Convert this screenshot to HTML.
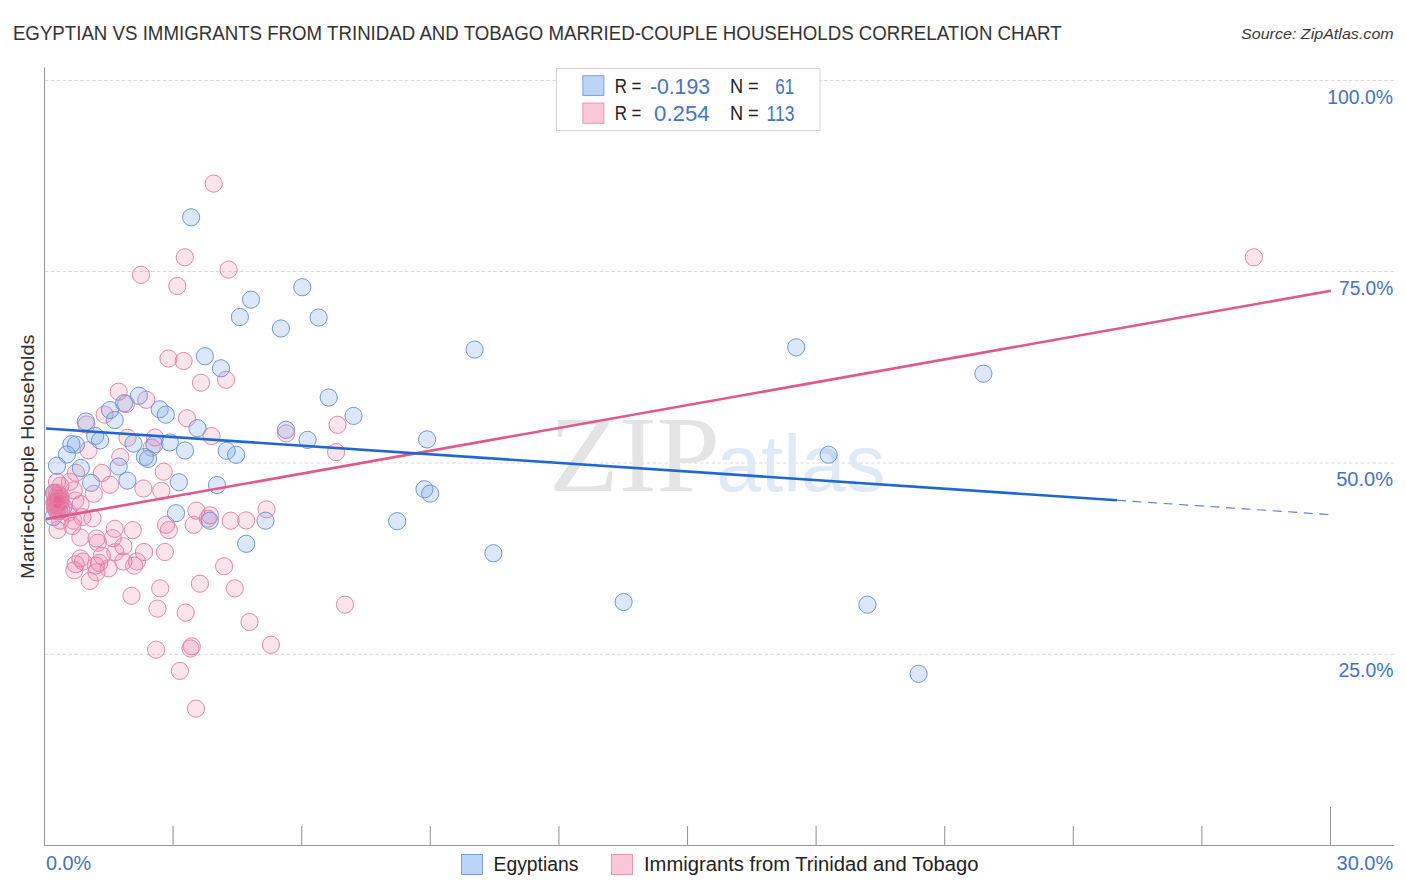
<!DOCTYPE html>
<html><head><meta charset="utf-8"><style>
html,body{margin:0;padding:0;background:#fff;width:1406px;height:892px;overflow:hidden}
svg{display:block}
text{font-family:"Liberation Sans",sans-serif}
</style></head><body>
<svg width="1406" height="892" viewBox="0 0 1406 892">
<rect width="1406" height="892" fill="#fff"/>
<text x="12.9" y="39.7" font-size="19.6" fill="#333" textLength="1048.7" lengthAdjust="spacingAndGlyphs">EGYPTIAN VS IMMIGRANTS FROM TRINIDAD AND TOBAGO MARRIED-COUPLE HOUSEHOLDS CORRELATION CHART</text>
<text x="1241" y="38.7" font-size="14.8" font-style="italic" fill="#3a3a3a" textLength="152.7" lengthAdjust="spacingAndGlyphs">Source: ZipAtlas.com</text>
<line x1="45" y1="80.5" x2="1394" y2="80.5" stroke="#dadada" stroke-width="1" stroke-dasharray="3.5,2.4"/>
<line x1="45" y1="271.5" x2="1394" y2="271.5" stroke="#dadada" stroke-width="1" stroke-dasharray="3.5,2.4"/>
<line x1="45" y1="463.0" x2="1394" y2="463.0" stroke="#dadada" stroke-width="1" stroke-dasharray="3.5,2.4"/>
<line x1="45" y1="654.3" x2="1394" y2="654.3" stroke="#dadada" stroke-width="1" stroke-dasharray="3.5,2.4"/>
<text x="549" y="490.9" font-family="Liberation Serif" font-size="108" fill="#e4e4e4" textLength="171" lengthAdjust="spacingAndGlyphs" style="font-family:'Liberation Serif',serif">ZIP</text>
<text x="716.5" y="490.9" font-size="80" fill="#dfe9f7" textLength="169" lengthAdjust="spacingAndGlyphs">atlas</text>
<line x1="44.5" y1="67.5" x2="44.5" y2="845.5" stroke="#999" stroke-width="1.1"/>
<line x1="44" y1="845.5" x2="1394" y2="845.5" stroke="#999" stroke-width="1.1"/>
<line x1="173.1" y1="826" x2="173.1" y2="845" stroke="#999" stroke-width="1.1"/>
<line x1="301.7" y1="826" x2="301.7" y2="845" stroke="#999" stroke-width="1.1"/>
<line x1="430.3" y1="826" x2="430.3" y2="845" stroke="#999" stroke-width="1.1"/>
<line x1="558.9" y1="826" x2="558.9" y2="845" stroke="#999" stroke-width="1.1"/>
<line x1="687.5" y1="826" x2="687.5" y2="845" stroke="#999" stroke-width="1.1"/>
<line x1="816.1" y1="826" x2="816.1" y2="845" stroke="#999" stroke-width="1.1"/>
<line x1="944.7" y1="826" x2="944.7" y2="845" stroke="#999" stroke-width="1.1"/>
<line x1="1073.3" y1="826" x2="1073.3" y2="845" stroke="#999" stroke-width="1.1"/>
<line x1="1201.9" y1="826" x2="1201.9" y2="845" stroke="#999" stroke-width="1.1"/>
<line x1="1330.5" y1="807" x2="1330.5" y2="845" stroke="#999" stroke-width="1.1"/>
<text x="1327.3" y="103.7" font-size="20" fill="#4173cc" textLength="65.7" lengthAdjust="spacingAndGlyphs">100.0%</text>
<text x="1339" y="294.9" font-size="20" fill="#4173cc" textLength="54.2" lengthAdjust="spacingAndGlyphs">75.0%</text>
<text x="1336.2" y="485.9" font-size="20" fill="#4173cc" textLength="56.9" lengthAdjust="spacingAndGlyphs">50.0%</text>
<text x="1338.5" y="677.2" font-size="20" fill="#4173cc" textLength="55" lengthAdjust="spacingAndGlyphs">25.0%</text>
<text x="46" y="869.8" font-size="20" fill="#4173cc" textLength="45.2" lengthAdjust="spacingAndGlyphs">0.0%</text>
<text x="1336.6" y="869.8" font-size="20" fill="#4173cc" textLength="56.6" lengthAdjust="spacingAndGlyphs">30.0%</text>
<text transform="translate(33.8,579) rotate(-90)" x="0" y="0" font-size="19" fill="#333" textLength="244.5" lengthAdjust="spacingAndGlyphs">Married-couple Households</text>
<circle cx="54.1" cy="492.8" r="8.6" fill="rgba(116,162,232,0.25)" stroke="#7197da" stroke-width="1"/>
<circle cx="63.5" cy="506.9" r="8.6" fill="rgba(116,162,232,0.25)" stroke="#7197da" stroke-width="1"/>
<circle cx="53.3" cy="517.1" r="8.6" fill="rgba(116,162,232,0.25)" stroke="#7197da" stroke-width="1"/>
<circle cx="1253.8" cy="257.3" r="8.6" fill="rgba(236,92,148,0.17)" stroke="#e488aa" stroke-width="1"/>
<circle cx="345" cy="604.6" r="8.6" fill="rgba(236,92,148,0.17)" stroke="#e488aa" stroke-width="1"/>
<circle cx="213.7" cy="183.6" r="8.6" fill="rgba(236,92,148,0.17)" stroke="#e488aa" stroke-width="1"/>
<circle cx="184.8" cy="257.3" r="8.6" fill="rgba(236,92,148,0.17)" stroke="#e488aa" stroke-width="1"/>
<circle cx="141" cy="274.8" r="8.6" fill="rgba(236,92,148,0.17)" stroke="#e488aa" stroke-width="1"/>
<circle cx="177.3" cy="286" r="8.6" fill="rgba(236,92,148,0.17)" stroke="#e488aa" stroke-width="1"/>
<circle cx="228.6" cy="269.6" r="8.6" fill="rgba(236,92,148,0.17)" stroke="#e488aa" stroke-width="1"/>
<circle cx="168.5" cy="358.5" r="8.6" fill="rgba(236,92,148,0.17)" stroke="#e488aa" stroke-width="1"/>
<circle cx="183.6" cy="361" r="8.6" fill="rgba(236,92,148,0.17)" stroke="#e488aa" stroke-width="1"/>
<circle cx="201" cy="382.7" r="8.6" fill="rgba(236,92,148,0.17)" stroke="#e488aa" stroke-width="1"/>
<circle cx="226" cy="379.8" r="8.6" fill="rgba(236,92,148,0.17)" stroke="#e488aa" stroke-width="1"/>
<circle cx="118.7" cy="391.7" r="8.6" fill="rgba(236,92,148,0.17)" stroke="#e488aa" stroke-width="1"/>
<circle cx="146.3" cy="399.8" r="8.6" fill="rgba(236,92,148,0.17)" stroke="#e488aa" stroke-width="1"/>
<circle cx="126.1" cy="404" r="8.6" fill="rgba(236,92,148,0.17)" stroke="#e488aa" stroke-width="1"/>
<circle cx="104.6" cy="414.6" r="8.6" fill="rgba(236,92,148,0.17)" stroke="#e488aa" stroke-width="1"/>
<circle cx="86.4" cy="424.5" r="8.6" fill="rgba(236,92,148,0.17)" stroke="#e488aa" stroke-width="1"/>
<circle cx="187" cy="418.3" r="8.6" fill="rgba(236,92,148,0.17)" stroke="#e488aa" stroke-width="1"/>
<circle cx="337.5" cy="424.8" r="8.6" fill="rgba(236,92,148,0.17)" stroke="#e488aa" stroke-width="1"/>
<circle cx="286.2" cy="433.4" r="8.6" fill="rgba(236,92,148,0.17)" stroke="#e488aa" stroke-width="1"/>
<circle cx="336.1" cy="452.1" r="8.6" fill="rgba(236,92,148,0.17)" stroke="#e488aa" stroke-width="1"/>
<circle cx="127.5" cy="437.8" r="8.6" fill="rgba(236,92,148,0.17)" stroke="#e488aa" stroke-width="1"/>
<circle cx="155" cy="437.5" r="8.6" fill="rgba(236,92,148,0.17)" stroke="#e488aa" stroke-width="1"/>
<circle cx="211.5" cy="436" r="8.6" fill="rgba(236,92,148,0.17)" stroke="#e488aa" stroke-width="1"/>
<circle cx="151.7" cy="447.6" r="8.6" fill="rgba(236,92,148,0.17)" stroke="#e488aa" stroke-width="1"/>
<circle cx="88.5" cy="450.3" r="8.6" fill="rgba(236,92,148,0.17)" stroke="#e488aa" stroke-width="1"/>
<circle cx="120.3" cy="457" r="8.6" fill="rgba(236,92,148,0.17)" stroke="#e488aa" stroke-width="1"/>
<circle cx="163.7" cy="471.7" r="8.6" fill="rgba(236,92,148,0.17)" stroke="#e488aa" stroke-width="1"/>
<circle cx="161.3" cy="490.8" r="8.6" fill="rgba(236,92,148,0.17)" stroke="#e488aa" stroke-width="1"/>
<circle cx="143.4" cy="488.5" r="8.6" fill="rgba(236,92,148,0.17)" stroke="#e488aa" stroke-width="1"/>
<circle cx="101.9" cy="473" r="8.6" fill="rgba(236,92,148,0.17)" stroke="#e488aa" stroke-width="1"/>
<circle cx="76" cy="472.8" r="8.6" fill="rgba(236,92,148,0.17)" stroke="#e488aa" stroke-width="1"/>
<circle cx="110" cy="484.8" r="8.6" fill="rgba(236,92,148,0.17)" stroke="#e488aa" stroke-width="1"/>
<circle cx="57" cy="482" r="8.6" fill="rgba(236,92,148,0.17)" stroke="#e488aa" stroke-width="1"/>
<circle cx="93.8" cy="493.8" r="8.6" fill="rgba(236,92,148,0.17)" stroke="#e488aa" stroke-width="1"/>
<circle cx="80.6" cy="504.2" r="8.6" fill="rgba(236,92,148,0.17)" stroke="#e488aa" stroke-width="1"/>
<circle cx="92.5" cy="518.3" r="8.6" fill="rgba(236,92,148,0.17)" stroke="#e488aa" stroke-width="1"/>
<circle cx="57.5" cy="530" r="8.6" fill="rgba(236,92,148,0.17)" stroke="#e488aa" stroke-width="1"/>
<circle cx="72.3" cy="526" r="8.6" fill="rgba(236,92,148,0.17)" stroke="#e488aa" stroke-width="1"/>
<circle cx="80.4" cy="537.5" r="8.6" fill="rgba(236,92,148,0.17)" stroke="#e488aa" stroke-width="1"/>
<circle cx="96.5" cy="538.5" r="8.6" fill="rgba(236,92,148,0.17)" stroke="#e488aa" stroke-width="1"/>
<circle cx="114.7" cy="528.8" r="8.6" fill="rgba(236,92,148,0.17)" stroke="#e488aa" stroke-width="1"/>
<circle cx="132.8" cy="530.1" r="8.6" fill="rgba(236,92,148,0.17)" stroke="#e488aa" stroke-width="1"/>
<circle cx="112.7" cy="538.2" r="8.6" fill="rgba(236,92,148,0.17)" stroke="#e488aa" stroke-width="1"/>
<circle cx="123.4" cy="546.3" r="8.6" fill="rgba(236,92,148,0.17)" stroke="#e488aa" stroke-width="1"/>
<circle cx="144" cy="552" r="8.6" fill="rgba(236,92,148,0.17)" stroke="#e488aa" stroke-width="1"/>
<circle cx="101.9" cy="555.7" r="8.6" fill="rgba(236,92,148,0.17)" stroke="#e488aa" stroke-width="1"/>
<circle cx="80.4" cy="558.4" r="8.6" fill="rgba(236,92,148,0.17)" stroke="#e488aa" stroke-width="1"/>
<circle cx="166.1" cy="524.8" r="8.6" fill="rgba(236,92,148,0.17)" stroke="#e488aa" stroke-width="1"/>
<circle cx="168.8" cy="530.1" r="8.6" fill="rgba(236,92,148,0.17)" stroke="#e488aa" stroke-width="1"/>
<circle cx="196.4" cy="510.6" r="8.6" fill="rgba(236,92,148,0.17)" stroke="#e488aa" stroke-width="1"/>
<circle cx="209.9" cy="515.3" r="8.6" fill="rgba(236,92,148,0.17)" stroke="#e488aa" stroke-width="1"/>
<circle cx="207.8" cy="518.7" r="8.6" fill="rgba(236,92,148,0.17)" stroke="#e488aa" stroke-width="1"/>
<circle cx="193.7" cy="524.8" r="8.6" fill="rgba(236,92,148,0.17)" stroke="#e488aa" stroke-width="1"/>
<circle cx="230.7" cy="520.7" r="8.6" fill="rgba(236,92,148,0.17)" stroke="#e488aa" stroke-width="1"/>
<circle cx="246.2" cy="520.4" r="8.6" fill="rgba(236,92,148,0.17)" stroke="#e488aa" stroke-width="1"/>
<circle cx="266.5" cy="509.3" r="8.6" fill="rgba(236,92,148,0.17)" stroke="#e488aa" stroke-width="1"/>
<circle cx="164.9" cy="552" r="8.6" fill="rgba(236,92,148,0.17)" stroke="#e488aa" stroke-width="1"/>
<circle cx="97.9" cy="542.7" r="8.6" fill="rgba(236,92,148,0.17)" stroke="#e488aa" stroke-width="1"/>
<circle cx="75.7" cy="564.2" r="8.6" fill="rgba(236,92,148,0.17)" stroke="#e488aa" stroke-width="1"/>
<circle cx="74.3" cy="570.3" r="8.6" fill="rgba(236,92,148,0.17)" stroke="#e488aa" stroke-width="1"/>
<circle cx="83" cy="561.5" r="8.6" fill="rgba(236,92,148,0.17)" stroke="#e488aa" stroke-width="1"/>
<circle cx="95.8" cy="565.6" r="8.6" fill="rgba(236,92,148,0.17)" stroke="#e488aa" stroke-width="1"/>
<circle cx="99.2" cy="562.9" r="8.6" fill="rgba(236,92,148,0.17)" stroke="#e488aa" stroke-width="1"/>
<circle cx="96.5" cy="572.3" r="8.6" fill="rgba(236,92,148,0.17)" stroke="#e488aa" stroke-width="1"/>
<circle cx="108.6" cy="568.3" r="8.6" fill="rgba(236,92,148,0.17)" stroke="#e488aa" stroke-width="1"/>
<circle cx="89.8" cy="581" r="8.6" fill="rgba(236,92,148,0.17)" stroke="#e488aa" stroke-width="1"/>
<circle cx="123.4" cy="561.5" r="8.6" fill="rgba(236,92,148,0.17)" stroke="#e488aa" stroke-width="1"/>
<circle cx="134.2" cy="565.6" r="8.6" fill="rgba(236,92,148,0.17)" stroke="#e488aa" stroke-width="1"/>
<circle cx="136.9" cy="561.5" r="8.6" fill="rgba(236,92,148,0.17)" stroke="#e488aa" stroke-width="1"/>
<circle cx="115.3" cy="552.1" r="8.6" fill="rgba(236,92,148,0.17)" stroke="#e488aa" stroke-width="1"/>
<circle cx="131.5" cy="595.8" r="8.6" fill="rgba(236,92,148,0.17)" stroke="#e488aa" stroke-width="1"/>
<circle cx="160.2" cy="588.4" r="8.6" fill="rgba(236,92,148,0.17)" stroke="#e488aa" stroke-width="1"/>
<circle cx="157.5" cy="608.6" r="8.6" fill="rgba(236,92,148,0.17)" stroke="#e488aa" stroke-width="1"/>
<circle cx="156.1" cy="649.7" r="8.6" fill="rgba(236,92,148,0.17)" stroke="#e488aa" stroke-width="1"/>
<circle cx="224.1" cy="566.2" r="8.6" fill="rgba(236,92,148,0.17)" stroke="#e488aa" stroke-width="1"/>
<circle cx="199.9" cy="583.7" r="8.6" fill="rgba(236,92,148,0.17)" stroke="#e488aa" stroke-width="1"/>
<circle cx="234.8" cy="588.4" r="8.6" fill="rgba(236,92,148,0.17)" stroke="#e488aa" stroke-width="1"/>
<circle cx="185.7" cy="612.6" r="8.6" fill="rgba(236,92,148,0.17)" stroke="#e488aa" stroke-width="1"/>
<circle cx="249.5" cy="622" r="8.6" fill="rgba(236,92,148,0.17)" stroke="#e488aa" stroke-width="1"/>
<circle cx="191.8" cy="646.3" r="8.6" fill="rgba(236,92,148,0.17)" stroke="#e488aa" stroke-width="1"/>
<circle cx="190.5" cy="648.5" r="8.6" fill="rgba(236,92,148,0.17)" stroke="#e488aa" stroke-width="1"/>
<circle cx="270.9" cy="644.8" r="8.6" fill="rgba(236,92,148,0.17)" stroke="#e488aa" stroke-width="1"/>
<circle cx="179.9" cy="670.9" r="8.6" fill="rgba(236,92,148,0.17)" stroke="#e488aa" stroke-width="1"/>
<circle cx="196" cy="708.6" r="8.6" fill="rgba(236,92,148,0.17)" stroke="#e488aa" stroke-width="1"/>
<circle cx="60.4" cy="485.7" r="8.6" fill="rgba(236,92,148,0.17)" stroke="#e488aa" stroke-width="1"/>
<circle cx="69.8" cy="481.8" r="8.6" fill="rgba(236,92,148,0.17)" stroke="#e488aa" stroke-width="1"/>
<circle cx="73.8" cy="490.4" r="8.6" fill="rgba(236,92,148,0.17)" stroke="#e488aa" stroke-width="1"/>
<circle cx="82.4" cy="517.1" r="8.6" fill="rgba(236,92,148,0.17)" stroke="#e488aa" stroke-width="1"/>
<circle cx="59.0" cy="502.0" r="8.6" fill="rgba(236,92,148,0.17)" stroke="#e488aa" stroke-width="1"/>
<circle cx="55.287818853376265" cy="505.208450107618" r="8.6" fill="rgba(236,92,148,0.17)" stroke="#e488aa" stroke-width="1"/>
<circle cx="57.89374542547751" cy="494.9023271620446" r="8.6" fill="rgba(236,92,148,0.17)" stroke="#e488aa" stroke-width="1"/>
<circle cx="61.15010788719353" cy="509.53984470656695" r="8.6" fill="rgba(236,92,148,0.17)" stroke="#e488aa" stroke-width="1"/>
<circle cx="56.02296821630881" cy="501.58597389459544" r="8.6" fill="rgba(236,92,148,0.17)" stroke="#e488aa" stroke-width="1"/>
<circle cx="60.03156187619748" cy="499.45127863949796" r="8.6" fill="rgba(236,92,148,0.17)" stroke="#e488aa" stroke-width="1"/>
<circle cx="56.330821897038106" cy="508.8803116579136" r="8.6" fill="rgba(236,92,148,0.17)" stroke="#e488aa" stroke-width="1"/>
<circle cx="54.73592847553182" cy="493.56811318097573" r="8.6" fill="rgba(236,92,148,0.17)" stroke="#e488aa" stroke-width="1"/>
<circle cx="58.908830520045306" cy="502.8153729559472" r="8.6" fill="rgba(236,92,148,0.17)" stroke="#e488aa" stroke-width="1"/>
<circle cx="54.72658467525764" cy="503.81093983536095" r="8.6" fill="rgba(236,92,148,0.17)" stroke="#e488aa" stroke-width="1"/>
<circle cx="59.40880553301648" cy="495.54775417070283" r="8.6" fill="rgba(236,92,148,0.17)" stroke="#e488aa" stroke-width="1"/>
<circle cx="59.293387438186826" cy="511.0657083976806" r="8.6" fill="rgba(236,92,148,0.17)" stroke="#e488aa" stroke-width="1"/>
<circle cx="56.20251517576971" cy="500.80825041007614" r="8.6" fill="rgba(236,92,148,0.17)" stroke="#e488aa" stroke-width="1"/>
<circle cx="60.43033490249678" cy="500.98230043359456" r="8.6" fill="rgba(236,92,148,0.17)" stroke="#e488aa" stroke-width="1"/>
<circle cx="54.91002284809396" cy="507.8265845635009" r="8.6" fill="rgba(236,92,148,0.17)" stroke="#e488aa" stroke-width="1"/>
<circle cx="56.73221786223557" cy="492.5781008922904" r="8.6" fill="rgba(236,92,148,0.17)" stroke="#e488aa" stroke-width="1"/>
<circle cx="58.64640457894817" cy="503.53162974074405" r="8.6" fill="rgba(236,92,148,0.17)" stroke="#e488aa" stroke-width="1"/>
<circle cx="54.50248494094586" cy="502.1932929724119" r="8.6" fill="rgba(236,92,148,0.17)" stroke="#e488aa" stroke-width="1"/>
<circle cx="60.691832563515774" cy="496.97751170842344" r="8.6" fill="rgba(236,92,148,0.17)" stroke="#e488aa" stroke-width="1"/>
<circle cx="57.21866405571774" cy="511.4895508620777" r="8.6" fill="rgba(236,92,148,0.17)" stroke="#e488aa" stroke-width="1"/>
<circle cx="56.539783490796204" cy="500.1753951793563" r="8.6" fill="rgba(236,92,148,0.17)" stroke="#e488aa" stroke-width="1"/>
<circle cx="60.472898449924465" cy="502.6370330813169" r="8.6" fill="rgba(236,92,148,0.17)" stroke="#e488aa" stroke-width="1"/>
<circle cx="75.3" cy="500.5" r="8.6" fill="rgba(236,92,148,0.17)" stroke="#e488aa" stroke-width="1"/>
<circle cx="68.3" cy="512.6" r="8.6" fill="rgba(236,92,148,0.17)" stroke="#e488aa" stroke-width="1"/>
<circle cx="60.2" cy="520.6" r="8.6" fill="rgba(236,92,148,0.17)" stroke="#e488aa" stroke-width="1"/>
<circle cx="73.3" cy="520.6" r="8.6" fill="rgba(236,92,148,0.17)" stroke="#e488aa" stroke-width="1"/>
<circle cx="474.6" cy="349.6" r="8.6" fill="rgba(116,162,232,0.25)" stroke="#7197da" stroke-width="1"/>
<circle cx="353.5" cy="415.9" r="8.6" fill="rgba(116,162,232,0.25)" stroke="#7197da" stroke-width="1"/>
<circle cx="427.1" cy="439.4" r="8.6" fill="rgba(116,162,232,0.25)" stroke="#7197da" stroke-width="1"/>
<circle cx="424.5" cy="489.2" r="8.6" fill="rgba(116,162,232,0.25)" stroke="#7197da" stroke-width="1"/>
<circle cx="430.2" cy="493.6" r="8.6" fill="rgba(116,162,232,0.25)" stroke="#7197da" stroke-width="1"/>
<circle cx="397.2" cy="521.2" r="8.6" fill="rgba(116,162,232,0.25)" stroke="#7197da" stroke-width="1"/>
<circle cx="493.4" cy="553.2" r="8.6" fill="rgba(116,162,232,0.25)" stroke="#7197da" stroke-width="1"/>
<circle cx="623.6" cy="602" r="8.6" fill="rgba(116,162,232,0.25)" stroke="#7197da" stroke-width="1"/>
<circle cx="796.2" cy="347.3" r="8.6" fill="rgba(116,162,232,0.25)" stroke="#7197da" stroke-width="1"/>
<circle cx="983.4" cy="373.7" r="8.6" fill="rgba(116,162,232,0.25)" stroke="#7197da" stroke-width="1"/>
<circle cx="828.6" cy="454.7" r="8.6" fill="rgba(116,162,232,0.25)" stroke="#7197da" stroke-width="1"/>
<circle cx="867.4" cy="604.7" r="8.6" fill="rgba(116,162,232,0.25)" stroke="#7197da" stroke-width="1"/>
<circle cx="918.6" cy="673.8" r="8.6" fill="rgba(116,162,232,0.25)" stroke="#7197da" stroke-width="1"/>
<circle cx="191.1" cy="217.3" r="8.6" fill="rgba(116,162,232,0.25)" stroke="#7197da" stroke-width="1"/>
<circle cx="302.3" cy="287.2" r="8.6" fill="rgba(116,162,232,0.25)" stroke="#7197da" stroke-width="1"/>
<circle cx="251" cy="299.7" r="8.6" fill="rgba(116,162,232,0.25)" stroke="#7197da" stroke-width="1"/>
<circle cx="239.9" cy="317" r="8.6" fill="rgba(116,162,232,0.25)" stroke="#7197da" stroke-width="1"/>
<circle cx="318.6" cy="317.5" r="8.6" fill="rgba(116,162,232,0.25)" stroke="#7197da" stroke-width="1"/>
<circle cx="280.9" cy="328.5" r="8.6" fill="rgba(116,162,232,0.25)" stroke="#7197da" stroke-width="1"/>
<circle cx="204.9" cy="356.2" r="8.6" fill="rgba(116,162,232,0.25)" stroke="#7197da" stroke-width="1"/>
<circle cx="221" cy="368.3" r="8.6" fill="rgba(116,162,232,0.25)" stroke="#7197da" stroke-width="1"/>
<circle cx="328.7" cy="397.5" r="8.6" fill="rgba(116,162,232,0.25)" stroke="#7197da" stroke-width="1"/>
<circle cx="286" cy="429.8" r="8.6" fill="rgba(116,162,232,0.25)" stroke="#7197da" stroke-width="1"/>
<circle cx="307.6" cy="439.9" r="8.6" fill="rgba(116,162,232,0.25)" stroke="#7197da" stroke-width="1"/>
<circle cx="138.9" cy="395.8" r="8.6" fill="rgba(116,162,232,0.25)" stroke="#7197da" stroke-width="1"/>
<circle cx="124.1" cy="403.2" r="8.6" fill="rgba(116,162,232,0.25)" stroke="#7197da" stroke-width="1"/>
<circle cx="110" cy="410" r="8.6" fill="rgba(116,162,232,0.25)" stroke="#7197da" stroke-width="1"/>
<circle cx="114.7" cy="420" r="8.6" fill="rgba(116,162,232,0.25)" stroke="#7197da" stroke-width="1"/>
<circle cx="85.9" cy="421.5" r="8.6" fill="rgba(116,162,232,0.25)" stroke="#7197da" stroke-width="1"/>
<circle cx="159.7" cy="409.3" r="8.6" fill="rgba(116,162,232,0.25)" stroke="#7197da" stroke-width="1"/>
<circle cx="165.8" cy="414.7" r="8.6" fill="rgba(116,162,232,0.25)" stroke="#7197da" stroke-width="1"/>
<circle cx="197.5" cy="428.2" r="8.6" fill="rgba(116,162,232,0.25)" stroke="#7197da" stroke-width="1"/>
<circle cx="95.2" cy="436" r="8.6" fill="rgba(116,162,232,0.25)" stroke="#7197da" stroke-width="1"/>
<circle cx="100" cy="440.4" r="8.6" fill="rgba(116,162,232,0.25)" stroke="#7197da" stroke-width="1"/>
<circle cx="133.5" cy="443.6" r="8.6" fill="rgba(116,162,232,0.25)" stroke="#7197da" stroke-width="1"/>
<circle cx="154.4" cy="444.5" r="8.6" fill="rgba(116,162,232,0.25)" stroke="#7197da" stroke-width="1"/>
<circle cx="169.8" cy="442.5" r="8.6" fill="rgba(116,162,232,0.25)" stroke="#7197da" stroke-width="1"/>
<circle cx="185" cy="450.5" r="8.6" fill="rgba(116,162,232,0.25)" stroke="#7197da" stroke-width="1"/>
<circle cx="71.4" cy="444.2" r="8.6" fill="rgba(116,162,232,0.25)" stroke="#7197da" stroke-width="1"/>
<circle cx="75.9" cy="444.7" r="8.6" fill="rgba(116,162,232,0.25)" stroke="#7197da" stroke-width="1"/>
<circle cx="66.9" cy="454.5" r="8.6" fill="rgba(116,162,232,0.25)" stroke="#7197da" stroke-width="1"/>
<circle cx="226.7" cy="450.8" r="8.6" fill="rgba(116,162,232,0.25)" stroke="#7197da" stroke-width="1"/>
<circle cx="236.1" cy="454.8" r="8.6" fill="rgba(116,162,232,0.25)" stroke="#7197da" stroke-width="1"/>
<circle cx="144.9" cy="457" r="8.6" fill="rgba(116,162,232,0.25)" stroke="#7197da" stroke-width="1"/>
<circle cx="148" cy="459" r="8.6" fill="rgba(116,162,232,0.25)" stroke="#7197da" stroke-width="1"/>
<circle cx="118.7" cy="466.5" r="8.6" fill="rgba(116,162,232,0.25)" stroke="#7197da" stroke-width="1"/>
<circle cx="57" cy="465.7" r="8.6" fill="rgba(116,162,232,0.25)" stroke="#7197da" stroke-width="1"/>
<circle cx="80.8" cy="468" r="8.6" fill="rgba(116,162,232,0.25)" stroke="#7197da" stroke-width="1"/>
<circle cx="91.1" cy="482.8" r="8.6" fill="rgba(116,162,232,0.25)" stroke="#7197da" stroke-width="1"/>
<circle cx="127.4" cy="480.6" r="8.6" fill="rgba(116,162,232,0.25)" stroke="#7197da" stroke-width="1"/>
<circle cx="178.9" cy="482.2" r="8.6" fill="rgba(116,162,232,0.25)" stroke="#7197da" stroke-width="1"/>
<circle cx="217" cy="485" r="8.6" fill="rgba(116,162,232,0.25)" stroke="#7197da" stroke-width="1"/>
<circle cx="176" cy="513.2" r="8.6" fill="rgba(116,162,232,0.25)" stroke="#7197da" stroke-width="1"/>
<circle cx="209.8" cy="520.7" r="8.6" fill="rgba(116,162,232,0.25)" stroke="#7197da" stroke-width="1"/>
<circle cx="265.5" cy="520.7" r="8.6" fill="rgba(116,162,232,0.25)" stroke="#7197da" stroke-width="1"/>
<circle cx="246.2" cy="543.8" r="8.6" fill="rgba(116,162,232,0.25)" stroke="#7197da" stroke-width="1"/>
<line x1="46" y1="519.1" x2="1330.9" y2="290.8" stroke="#e2588c" stroke-width="2.6"/>
<line x1="46" y1="428.5" x2="1117" y2="500.3" stroke="#1f68d4" stroke-width="2.6"/>
<line x1="1117" y1="500.3" x2="1330" y2="514.6" stroke="#4f7fd6" stroke-width="1.1" stroke-dasharray="9,6.6"/>
<rect x="556.5" y="68.5" width="263.5" height="62" fill="#fff" stroke="#d6d6d6" stroke-width="1"/>
<rect x="582.9" y="75.7" width="21" height="19.7" fill="#bcd4f5" stroke="#7aa0e0" stroke-width="1"/>
<rect x="582.9" y="103.1" width="21" height="20.2" fill="#f9c8d8" stroke="#e897b2" stroke-width="1"/>
<text x="614.7" y="93.1" font-size="20" fill="#222" textLength="26.6" lengthAdjust="spacingAndGlyphs">R =</text>
<text x="649.9" y="93.7" font-size="22" fill="#3f74cf" textLength="60.1" lengthAdjust="spacingAndGlyphs">-0.193</text>
<text x="729.9" y="93.1" font-size="20" fill="#222" textLength="28.8" lengthAdjust="spacingAndGlyphs">N =</text>
<text x="775.3" y="93.7" font-size="22" fill="#3f74cf" textLength="19" lengthAdjust="spacingAndGlyphs">61</text>
<text x="614.7" y="120.2" font-size="20" fill="#222" textLength="26.6" lengthAdjust="spacingAndGlyphs">R =</text>
<text x="654.1" y="120.7" font-size="22" fill="#3f74cf" textLength="55.5" lengthAdjust="spacingAndGlyphs">0.254</text>
<text x="729.9" y="120.2" font-size="20" fill="#222" textLength="28.8" lengthAdjust="spacingAndGlyphs">N =</text>
<text x="766.6" y="120.7" font-size="22" fill="#3f74cf" textLength="27.7" lengthAdjust="spacingAndGlyphs">113</text>
<rect x="461.5" y="854.5" width="21" height="20" fill="#bcd4f5" stroke="#7aa0e0" stroke-width="1"/>
<text x="493.6" y="870.8" font-size="19.5" fill="#222" textLength="84.8" lengthAdjust="spacingAndGlyphs">Egyptians</text>
<rect x="611.5" y="854.5" width="21" height="20" fill="#f9c8d8" stroke="#e897b2" stroke-width="1"/>
<text x="644" y="870.8" font-size="20" fill="#222" textLength="334.4" lengthAdjust="spacingAndGlyphs">Immigrants from Trinidad and Tobago</text>
</svg>
</body></html>
